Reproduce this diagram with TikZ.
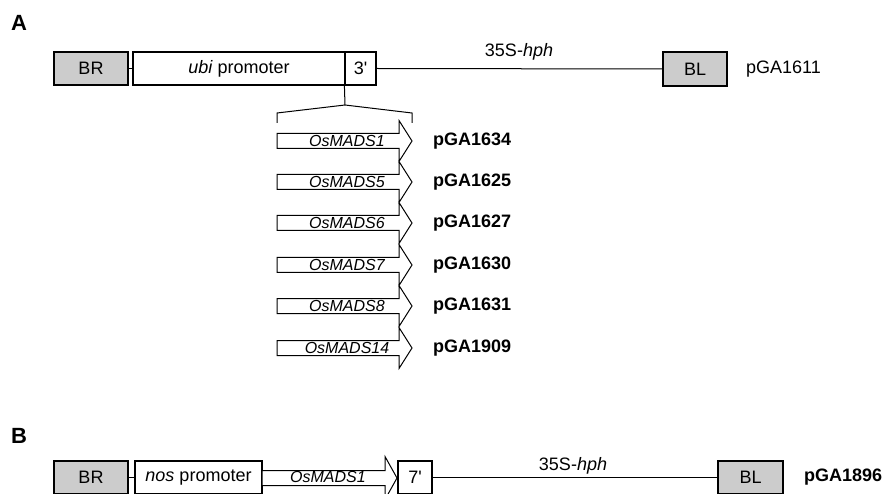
\documentclass[tikz,border=0pt]{standalone}
\usepackage{fontspec}
\setmainfont{Liberation Sans}
\newfontfamily\plainsans{Liberation Sans}
\newcommand\primetick{{\plainsans\symbol{39}}}
\newcommand\geneArrow[6]{%
  % #1 name, #2 left x, #3 base x, #4 tip x, #5 centre y, #6 half head
  \draw[arr] (#2,#5-7.5) -- (#3,#5-7.5) -- (#3,#5-#6) -- (#4,#5) -- (#3,#5+#6) -- (#3,#5+7.5) -- (#2,#5+7.5) -- cycle;
  \coordinate (#1) at (#2,#5);
}
\begin{document}
\begin{tikzpicture}[x=1pt,y=-1pt,
  box/.style={draw,line width=1.2pt,minimum height=33pt,inner sep=0pt,font=\fontsize{18}{20}\selectfont},
  border/.style={box,fill=black!20},
  wire/.style={line width=1pt},
  lbl/.style={font=\fontsize{18}{20}\selectfont,inner sep=0pt},
  plabel/.style={font=\fontsize{18}{20}\selectfont\bfseries,inner sep=0pt},
  panel/.style={font=\fontsize{22}{24}\selectfont\bfseries,inner sep=0pt},
  gene/.style={font=\fontsize{16}{17}\selectfont\itshape,inner sep=0pt},
  arr/.style={draw,line width=1pt,fill=white}]
\useasboundingbox (0,0) rectangle (883,494);

% ---------- Panel A ----------
\node[panel] (A) at (19,23) {A};
\node[border,minimum width=74pt] (BRa) at (91,68.5) {BR};
\node[box,minimum width=212pt] (ubi) at (239,68.5) {\textit{ubi} promoter};
\node[box,minimum width=31pt] (three) at (360.5,68.5) {3\primetick};
\node[border,minimum width=64pt,minimum height=34pt] (BLa) at (695,69) {BL};
\node[lbl,anchor=west] (p1611) at (746,69) {pGA1611};
\draw[wire] (BRa.east) -- (ubi.west);
\draw[wire] (three.east) -- (BLa.west);
\node[lbl,anchor=base] (hpha) at (519,57) {35S-\textit{hph}};

% bracket
\coordinate (brk) at (345,105);
\coordinate (brl) at (277,113);
\coordinate (brl2) at (277,123);
\coordinate (brr) at (412,113);
\coordinate (brr2) at (412,123);
\draw[wire] (three.south west) -- (brk);
\draw[wire] (brl2) -- (brl) -- (brk) -- (brr) -- (brr2);

% gene arrows
\foreach \yy/\gn/\pn [count=\i] in {141/OsMADS1/pGA1634, 182/OsMADS5/pGA1625, 223/OsMADS6/pGA1627, 265/OsMADS7/pGA1630, 306/OsMADS8/pGA1631, 348/OsMADS14/pGA1909}{
  \geneArrow{g\i}{277}{399}{412}{\yy}{20.5}
  \node[gene] (gl\i) at (347,\yy) {\gn};
  \node[plabel,anchor=west] (pl\i) at (433,\yy) {\pn};
}

% ---------- Panel B ----------
\node[panel] (B) at (19,436) {B};
\node[border,minimum width=74pt] (BRb) at (91,477.5) {BR};
\node[box,minimum width=127pt] (nos) at (198.5,477.5) {\textit{nos} promoter};
\geneArrow{gb}{262}{385}{397}{478}{21.5}
\node[gene] (glb) at (328,477) {OsMADS1};
\node[box,minimum width=34pt] (seven) at (415,477.5) {7\primetick};
\node[border,minimum width=65pt] (BLb) at (750.5,477.5) {BL};
\node[plabel,anchor=west] (p1896) at (804,477) {pGA1896};
\draw[wire] (BRb.east) -- (nos.west);
\draw[wire] (seven.east) -- (BLb.west);
\node[lbl,anchor=base] (hphb) at (573,470) {35S-\textit{hph}};
\end{tikzpicture}
\end{document}
